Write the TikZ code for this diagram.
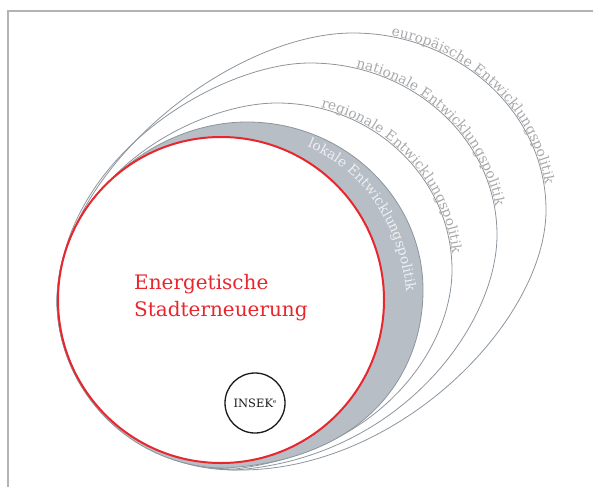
\documentclass[tikz,border=0pt]{standalone}
\usepackage{fontspec}
\setmainfont{DejaVu Serif}
\usepackage{xcolor}
\usetikzlibrary{decorations.text}
\definecolor{frame}{HTML}{B3B3B3}
\definecolor{orbit}{HTML}{8C959D}
\definecolor{band}{HTML}{B8BEC6}
\definecolor{muted}{HTML}{A9A9A9}
\definecolor{bandtext}{HTML}{EEF0F2}
\definecolor{signal}{HTML}{E8262D}
\definecolor{ink}{HTML}{1A1A1A}
\tikzset{
  border/.style={draw=frame, line width=2pt},
  ring/.style={draw=orbit, line width=0.8pt},
  core/.style={draw=signal, fill=white, line width=2pt},
  insek/.style={circle, draw=ink, line width=1.3pt, minimum size=60pt, inner sep=0pt, text=ink, font=\fontsize{11.5}{13}\selectfont},
  headline/.style={text=signal, align=left, anchor=north west, inner sep=0pt, font=\fontsize{20}{27}\selectfont}
}
\newcommand{\RingLabel}[5]{%
  \path[decorate, decoration={text along path, raise=#4, text align={left indent=#3},
    text={|\fontsize{13.7}{15}\selectfont\color{#5}|#1}}] #2;
}

\begin{document}
\begin{tikzpicture}[x=1pt,y=-1pt]
  \useasboundingbox (0,0) rectangle (593,487);
  \draw[border] (593,11) -- (8,11) -- (8,487);

  % outer rings
  \draw[ring] (57,300) .. controls (60,170) and (230,33) .. (353,33)
    .. controls (459,33) and (546,113) .. (546,210)
    .. controls (546,320) and (400,470) .. (240,470)
    .. controls (140,470) and (57,392) .. (57,300) -- cycle;
  \draw[ring] (57,300) .. controls (62,155) and (220,63) .. (310,63)
    .. controls (413,63) and (497,140) .. (497,235)
    .. controls (497,325) and (400,458) .. (235,470)
    .. controls (135,470) and (57,392) .. (57,300) -- cycle;
  \draw[ring] (57,300) .. controls (65,170) and (200,103) .. (277,103)
    .. controls (373,103) and (452,178) .. (452,270)
    .. controls (452,345) and (385,450) .. (235,469)
    .. controls (135,469) and (57,392) .. (57,300) -- cycle;
  \draw[ring, fill=band] (57,300) .. controls (57,205) and (150,122) .. (247,122)
    .. controls (344,122) and (423,198) .. (423,290)
    .. controls (423,375) and (365,460) .. (225,468)
    .. controls (133,468) and (57,392) .. (57,300) -- cycle;

  \RingLabel{europäische Entwicklungspolitik}{(353,33) .. controls (459,33) and (546,113) .. (546,210)}{38pt}{1pt}{muted}
  \RingLabel{nationale Entwicklungspolitik}{(310,63) .. controls (413,63) and (497,140) .. (497,235)}{46pt}{1pt}{muted}
  \RingLabel{regionale Entwicklungspolitik}{(277,103) .. controls (373,103) and (452,178) .. (452,270)}{44pt}{1pt}{muted}
  \RingLabel{lokale Entwicklungspolitik}{(247,135) .. controls (335,135) and (408,205) .. (408,320)}{62pt}{0pt}{bandtext}

  \draw[core] (221,300) circle (163pt);
  \node[headline] (title) at (134,274) {Energetische\\Stadterneuerung};
  \node[insek] (insekE) at (255,403) {INSEK\raisebox{3.5pt}{\fontsize{5.5}{6}\selectfont e}};
\end{tikzpicture}
\end{document}
